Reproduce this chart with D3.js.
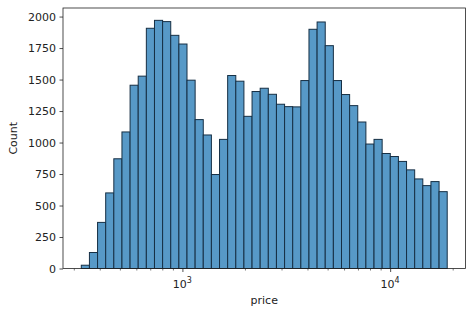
<!DOCTYPE html>
<html>
<head>
<meta charset="utf-8">
<script src="https://cdn.jsdelivr.net/npm/d3@7"></script>
<style>
  body { margin: 0; background: #fff; }
  text { font-family: "DejaVu Sans", sans-serif; fill: #222; }
</style>
</head>
<body>
<div id="chart"></div>
<script>
// histogram of price, log-spaced bins
var priceMin = 326
var priceMax = 18823
var counts = [26, 127, 366, 600, 871, 1084, 1455, 1527, 1907, 1970,
  1960, 1851, 1782, 1495, 1182, 1060, 746, 1025, 1532, 1487,
  1208, 1405, 1431, 1383, 1304, 1285, 1283, 1492, 1899, 1957,
  1769, 1492, 1381, 1293, 1163, 988, 1025, 913, 889, 850,
  783, 711, 658, 690, 610]
var yTicks = [0, 250, 500, 750, 1000, 1250, 1500, 1750, 2000]
var xMajor = [1000, 10000]
var xMinor = [300, 400, 500, 600, 700, 800, 900, 2000, 3000, 4000, 5000, 6000, 7000, 8000, 9000, 20000]

var width = 474
var height = 315
var margin = {top: 8, right: 8.5, bottom: 46.5, left: 63}

var svg = d3.select("#chart")
  .append("svg")
    .attr("width", width)
    .attr("height", height)

// bin edges in log space
var lo = Math.log10(priceMin), hi = Math.log10(priceMax)
var step = (hi - lo) / counts.length
var bins = counts.map(function(c, i){
  return {x0: Math.pow(10, lo + i * step), x1: Math.pow(10, lo + (i + 1) * step), n: c}
})

var pad = (hi - lo) * 0.05
var x = d3.scaleLog()
  .domain([Math.pow(10, lo - pad), Math.pow(10, hi + pad)])
  .range([margin.left, width - margin.right])

var y = d3.scaleLinear()
  .domain([0, 2068])
  .range([height - margin.bottom, margin.top])

// bars
svg.selectAll("rect.bar")
  .data(bins)
  .enter()
  .append("rect")
    .attr("class", "bar")
    .attr("x", function(d){ return x(d.x0) })
    .attr("width", function(d){ return x(d.x1) - x(d.x0) })
    .attr("y", function(d){ return y(d.n) })
    .attr("height", function(d){ return y(0) - y(d.n) })
    .style("fill", "#5799c7")
    .attr("stroke", "#162f44")
    .attr("stroke-width", 1)

// y axis
var yAxis = svg.append("g")
  .attr("transform", "translate(" + margin.left + ",0)")
  .call(d3.axisLeft(y).tickValues(yTicks).tickFormat(d3.format("d")).tickSize(3.5).tickPadding(3.5))
yAxis.select(".domain").remove()
yAxis.selectAll("text").style("font-size", "11px").attr("fill", "#222")
yAxis.selectAll("line").attr("stroke", "#222").attr("stroke-width", 0.8)

// x axis: minor ticks
var xMin = svg.append("g")
  .attr("transform", "translate(0," + (height - margin.bottom) + ")")
  .call(d3.axisBottom(x).tickValues(xMinor).tickSize(2).tickFormat(""))
xMin.select(".domain").remove()
xMin.selectAll("line").attr("stroke", "#222").attr("stroke-width", 0.6)

// x axis: major ticks
var xMaj = svg.append("g")
  .attr("transform", "translate(0," + (height - margin.bottom) + ")")
  .call(d3.axisBottom(x).tickValues(xMajor).tickSize(3.5).tickFormat(""))
xMaj.select(".domain").remove()
xMaj.selectAll("line").attr("stroke", "#222").attr("stroke-width", 0.8)

var lbl = svg.selectAll("text.xlabel")
  .data(xMajor)
  .enter()
  .append("text")
    .attr("class", "xlabel")
    .attr("x", function(d){ return x(d) })
    .attr("y", height - margin.bottom + 19)
    .attr("text-anchor", "middle")
    .style("font-size", "11px")
lbl.append("tspan").text("10")
lbl.append("tspan")
  .attr("dy", -4.5)
  .style("font-size", "8px")
  .text(function(d){ return Math.round(Math.log10(d)) })

// frame
svg.append("rect")
  .attr("x", margin.left)
  .attr("y", margin.top)
  .attr("width", width - margin.left - margin.right)
  .attr("height", height - margin.top - margin.bottom)
  .style("fill", "none")
  .attr("stroke", "#222")
  .attr("stroke-width", 0.8)

// axis titles
svg.append("text")
  .attr("x", (margin.left + width - margin.right) / 2)
  .attr("y", 304)
  .attr("text-anchor", "middle")
  .style("font-size", "11px")
  .text("price")

svg.append("text")
  .attr("transform", "translate(17," + ((margin.top + height - margin.bottom) / 2) + ") rotate(-90)")
  .attr("text-anchor", "middle")
  .style("font-size", "11px")
  .text("Count")
</script>
</body>
</html>
